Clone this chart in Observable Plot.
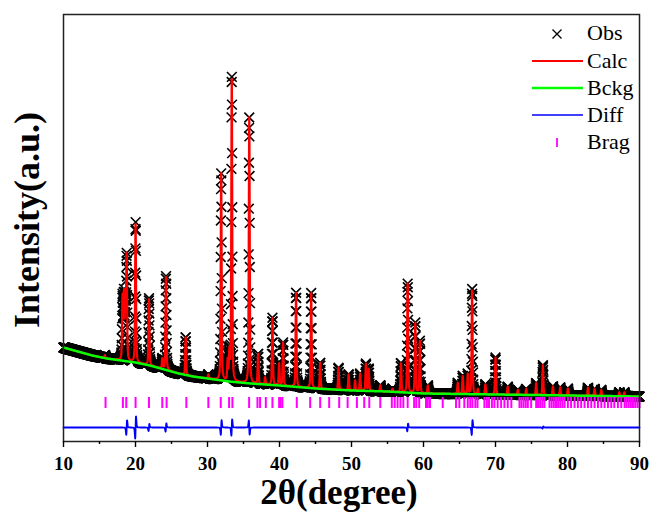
<!DOCTYPE html>
<html><head><meta charset="utf-8">
<script src="https://cdn.jsdelivr.net/npm/d3@7"></script>
<script src="https://cdn.jsdelivr.net/npm/@observablehq/plot@0.6"></script>
<style>html,body{margin:0;padding:0;background:#fff} svg{display:block}</style>
</head><body><div id="chart"></div>
<script>
// ---- data ----
// Reflection positions (2θ, degrees) of the calculated profile
const peakPos = [15.75,18.2,18.4,18.6,18.77,20.01,21.87,23.72,24.23,26.97,30.12,31.9,32.8,33.05,33.37,35.8,37.03,38.0,39.02,39.95,40.5,42.3,44.4,45.65,48.2,49.6,50.5,51.2,52.0,52.4,54.0,55.7,56.87,57.8,58.86,59.5,60.6,64.76,65.45,66.15,66.75,67.54,68.6,70.0,71.7,73.1,74.26,75.65,76.58,77.97,78.98,80.05,82.84,83.76,84.69,87.2,87.9];
// Net peak heights above background (counts)
const peakHeight = [75,1550,1600,1375,2575,3500,1675,250,2350,950,100,5175,500,700,7650,6650,750,175,1675,550,1075,2350,2375,650,550,400,250,425,675,550,150,75,725,2725,1750,1300,200,275,450,500,2625,125,250,925,200,125,150,300,750,225,200,175,200,175,150,100,100];
// Observed peak positions (slightly offset from calc for some reflections)
const obsPeakPos = [15.75,18.2,18.4,18.6,18.778,20.019,21.876,23.72,24.235,26.97,30.12,31.904,32.8,33.05,33.373,35.797,37.03,38.0,39.02,39.95,40.5,42.3,44.4,45.65,48.2,49.6,50.5,51.2,52.0,52.4,54.0,55.7,56.87,57.804,58.86,59.5,60.6,64.76,65.45,66.15,66.758,67.54,68.6,70.0,71.7,73.1,74.26,75.65,76.584,77.97,78.98,80.05,82.84,83.76,84.69,87.2,87.9];
// Background (refined) read at these angles
const bgDeg    = [10,12,14,16,18,20,22,24,26,28,30,33,36,40,45,50,55,60,70,80,90];
const bgCounts = [2000,1900,1800,1725,1675,1625,1550,1450,1350,1275,1225,1150,1100,1050,975,925,900,850,825,800,775];
// Bragg reflection positions
const braggPos = [15.84,18.25,18.72,20.01,21.87,23.72,24.32,27.06,30.12,31.84,33.0,33.46,35.78,36.94,37.3,38.1,39.02,39.95,40.15,40.4,42.4,44.26,45.65,46.9,48.29,49.46,50.75,51.77,52.47,54.0,55.6,56.0,56.4,56.8,57.2,57.8,58.7,59.0,59.4,60.35,60.6,60.9,62.67,64.52,64.98,65.67,66.15,66.5,66.8,67.2,67.5,68.46,68.8,69.1,69.5,69.85,70.3,70.78,71.24,71.7,72.2,73.33,73.6,73.9,74.2,74.49,74.95,75.65,75.9,76.2,76.5,76.8,77.5,77.8,78.1,78.4,78.7,79.0,79.3,79.6,80.05,80.5,80.98,81.44,81.9,82.37,82.84,83.3,83.76,84.23,84.7,85.15,85.62,86.08,86.5,87.0,87.47,87.93,88.2,88.5,88.8,89.1,89.4,89.7,90.0];
const xTicks = [10,20,30,40,50,60,70,80,90];
const xMinorTicks = [15,25,35,45,55,65,75,85];
const legendLabels = ["Obs","Calc","Bckg","Diff","Brag"];

// ---- profile model (pseudo-Voigt) ----
const fwhm = 0.15, eta = 0.4, step = 0.02;
const bgAt = d3.scaleLinear().domain(bgDeg).range(bgCounts);
function pv(x, x0, h){ const d = 2*(x-x0)/fwhm; const dd=d*d; return h*(eta/(1+dd) + (1-eta)*Math.exp(-Math.LN2*dd)); }
const nSteps = Math.round((90-10)/step);
const obs=[], calc=[], diff=[], bck=[];
for (let i=0;i<=nSteps;i++){
  const x = 10 + i*step;
  const b = bgAt(x);
  let c=b, o=b;
  for (let j=0;j<peakPos.length;j++){ c += pv(x, peakPos[j], peakHeight[j]); o += pv(x, obsPeakPos[j], peakHeight[j]); }
  obs.push({x, y:o}); calc.push({x, y:c}); bck.push({x, y:b}); diff.push({x, y:o-c});
}
const braggTop = 750, braggBottom = 475;

const font = "'Liberation Serif','Times New Roman',serif";
const plot = Plot.plot({
  width: 649, height: 514,
  marginLeft: 63, marginRight: 10, marginTop: 14, marginBottom: 73,
  style: {fontFamily: font, color: "black", background: "white"},
  x: {domain: [10, 90]},
  y: {domain: [-350, 10325], axis: null},
  marks: [
    Plot.dot(obs, {x: "x", y: "y", symbol: "times", r: 4.5, stroke: "black", strokeWidth: 1.6}),
    Plot.line(calc, {x: "x", y: "y", stroke: "#ff0000", strokeWidth: 2.2}),
    Plot.line(bck, {x: "x", y: "y", stroke: "#00ff00", strokeWidth: 2.5}),
    Plot.line(diff, {x: "x", y: "y", stroke: "#0000ff", strokeWidth: 1.8}),
    Plot.ruleX(braggPos, {x: d => d, y1: braggBottom, y2: braggTop, stroke: "#ff00ff", strokeWidth: 2}),
    Plot.frame({stroke: "#222", strokeWidth: 1.5}),
    Plot.axisX(xTicks, {tickSize: 6, tickPadding: 9, fontSize: 19, fontWeight: "bold", label: null, strokeWidth: 1.4}),
    Plot.axisX(xMinorTicks, {tickSize: 3, tickFormat: () => "", label: null, strokeWidth: 1.4})
  ]
});
document.getElementById("chart").appendChild(plot);

// axis titles and legend
const svg = d3.select(plot);
svg.append("text").attr("transform","translate(39,220) rotate(-90)")
  .attr("text-anchor","middle").attr("font-family",font).attr("font-weight","bold")
  .attr("font-size",36).attr("fill","black").text("Intensity(a.u.)");
svg.append("text").attr("x",339).attr("y",504)
  .attr("text-anchor","middle").attr("font-family",font).attr("font-weight","bold")
  .attr("font-size",35).attr("fill","black").text("2θ(degree)");

const lg = svg.append("g").attr("font-family",font).attr("font-size",22).attr("fill","black").attr("text-anchor","start");
const base = [39.5, 67.5, 94.5, 121.5, 149];
legendLabels.forEach((t,i)=>{
  lg.append("text").attr("x",587).attr("y",base[i]).attr("text-anchor","start").text(t);
});
lg.append("path").attr("d","M552.5,29.5L561.5,38.5M552.5,38.5L561.5,29.5").attr("stroke","black").attr("stroke-width",1.3);
[["#ff0000",2],["#00ff00",2.5],["#0000ff",1.3]].forEach(([c,w],i)=>{
  lg.append("line").attr("x1",532).attr("x2",583).attr("y1",base[i+1]-6.5).attr("y2",base[i+1]-6.5).attr("stroke",c).attr("stroke-width",w);
});
lg.append("line").attr("x1",557).attr("x2",557).attr("y1",138).attr("y2",147).attr("stroke","#ff00ff").attr("stroke-width",1.8);
</script>
</body></html>
